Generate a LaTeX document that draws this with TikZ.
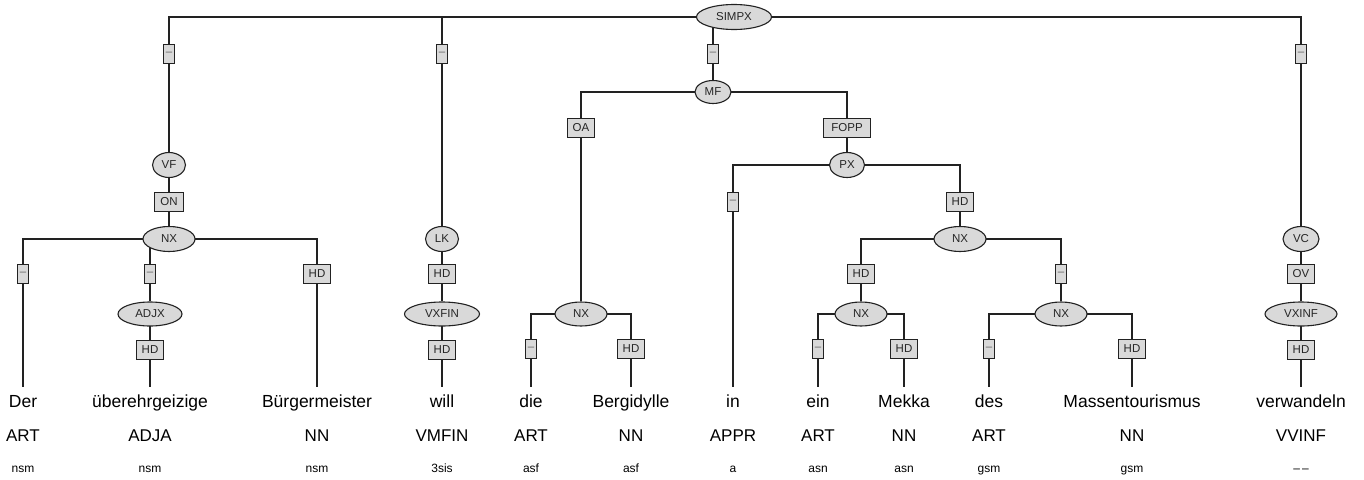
\documentclass[tikz,border=0pt]{standalone}
\usepackage{fontspec}
\setmainfont{Liberation Sans}
\usetikzlibrary{shapes.geometric,backgrounds}
\definecolor{nodefill}{HTML}{D9D9D9}
\definecolor{linecol}{HTML}{222222}
\definecolor{dashcol}{HTML}{666666}
\tikzset{
  cat/.style={ellipse, draw=linecol, fill=nodefill, line width=1.1pt, inner sep=0pt,
    minimum height=25pt, minimum width=#1, font=\fontsize{11.5}{13}\selectfont, text=black!85},
  edgelbl/.style={rectangle, draw=linecol, fill=nodefill, line width=1.1pt, inner xsep=5.5pt,
    inner ysep=0pt, minimum height=19pt, font=\fontsize{11.5}{13}\selectfont, text=black!85},
  dashlbl/.style={edgelbl, inner xsep=2.3pt, minimum width=11pt, text=dashcol},
  word/.style={anchor=base, inner xsep=0pt, inner ysep=7.5pt, text height=12.5pt, text depth=0pt,
    font=\fontsize{17.5}{20}\selectfont},
  postag/.style={anchor=base, inner sep=0pt, font=\fontsize{17}{20}\selectfont},
  morph/.style={anchor=base, inner sep=0pt, font=\fontsize{12}{14}\selectfont},
  conn/.style={draw=linecol, line width=1.1pt}
}
\begin{document}
\begin{tikzpicture}[x=1pt,y=-1pt]
\useasboundingbox (0,0) rectangle (1364,479);
% nodes
\node[cat=75pt] (simpx) at (734,17) {SIMPX};
\node[dashlbl] (es1) at (169,54) {–};
\node[dashlbl] (es2) at (442,54) {–};
\node[dashlbl] (es3) at (713,54) {–};
\node[dashlbl] (es4) at (1301,54) {–};
% VF
\node[cat=33pt] (vf) at (169,165) {VF};
\node[edgelbl] (eon) at (169,202) {ON};
\node[cat=52pt] (nxa) at (169,239) {NX};
\node[dashlbl] (enxa1) at (23,274) {–};
\node[dashlbl] (enxa2) at (150,274) {–};
\node[edgelbl] (enxa3) at (317,274) {HD};
\node[cat=64pt, minimum height=24pt] (adjx) at (150,314) {ADJX};
\node[edgelbl] (eadjx) at (150,350) {HD};
% LK
\node[cat=33pt] (lk) at (442,239) {LK};
\node[edgelbl] (elk) at (442,274) {HD};
\node[cat=75pt, minimum height=24pt] (vxfin) at (442,314) {VXFIN};
\node[edgelbl] (evxfin) at (442,350) {HD};
% MF
\node[cat=36pt, minimum height=23pt] (mf) at (713,92) {MF};
\node[edgelbl] (eoa) at (581,128) {OA};
\node[edgelbl, minimum width=47pt] (efopp) at (847,128) {FOPP};
\node[cat=52pt, minimum height=24pt] (nxb) at (581,314) {NX};
\node[dashlbl] (enxb1) at (531,349) {–};
\node[edgelbl] (enxb2) at (631,349) {HD};
\node[cat=35pt] (px) at (847,165) {PX};
\node[dashlbl] (epx1) at (733,202) {–};
\node[edgelbl] (epx2) at (960,202) {HD};
\node[cat=52pt] (nxc) at (960,239) {NX};
\node[edgelbl] (enxc1) at (861,274) {HD};
\node[dashlbl] (enxc2) at (1061,274) {–};
\node[cat=52pt, minimum height=24pt] (nxd) at (861,314) {NX};
\node[dashlbl] (enxd1) at (818,349) {–};
\node[edgelbl] (enxd2) at (904,349) {HD};
\node[cat=52pt, minimum height=24pt] (nxe) at (1061,314) {NX};
\node[dashlbl] (enxe1) at (989,349) {–};
\node[edgelbl] (enxe2) at (1132,349) {HD};
% VC
\node[cat=36pt] (vc) at (1301,239) {VC};
\node[edgelbl] (eov) at (1301,274) {OV};
\node[cat=72pt, minimum height=24pt] (vxinf) at (1301,314) {VXINF};
\node[edgelbl] (evxinf) at (1301,350) {HD};
% words
\node[word] (w1) at (23,407) {Der};
\node[word] (w2) at (150,407) {überehrgeizige};
\node[word] (w3) at (317,407) {Bürgermeister};
\node[word] (w4) at (442,407) {will};
\node[word] (w5) at (531,407) {die};
\node[word] (w6) at (631,407) {Bergidylle};
\node[word] (w7) at (733,407) {in};
\node[word] (w8) at (818,407) {ein};
\node[word] (w9) at (904,407) {Mekka};
\node[word] (w10) at (989,407) {des};
\node[word] (w11) at (1132,407) {Massentourismus};
\node[word] (w12) at (1301,407) {verwandeln};
% POS
\node[postag] (p1) at (23,441) {ART};
\node[postag] (p2) at (150,441) {ADJA};
\node[postag] (p3) at (317,441) {NN};
\node[postag] (p4) at (442,441) {VMFIN};
\node[postag] (p5) at (531,441) {ART};
\node[postag] (p6) at (631,441) {NN};
\node[postag] (p7) at (733,441) {APPR};
\node[postag] (p8) at (818,441) {ART};
\node[postag] (p9) at (904,441) {NN};
\node[postag] (p10) at (989,441) {ART};
\node[postag] (p11) at (1132,441) {NN};
\node[postag] (p12) at (1301,441) {VVINF};
% morph
\node[morph] (m1) at (23,472) {nsm};
\node[morph] (m2) at (150,472) {nsm};
\node[morph] (m3) at (317,472) {nsm};
\node[morph] (m4) at (442,472) {3sis};
\node[morph] (m5) at (531,472) {asf};
\node[morph] (m6) at (631,472) {asf};
\node[morph] (m7) at (733,472) {a};
\node[morph] (m8) at (818,472) {asn};
\node[morph] (m9) at (904,472) {asn};
\node[morph] (m10) at (989,472) {gsm};
\node[morph] (m11) at (1132,472) {gsm};
\node[morph] (m12) at (1301,472) {–\kern2pt–};
% connectors
\begin{pgfonlayer}{background}
\fill[white] (0,0) rectangle (1364,479);
\foreach \p/\e/\c in {simpx/es1/vf, simpx/es2/lk, simpx/es3/mf, simpx/es4/vc,
  vf/eon/nxa, nxa/enxa1/w1, nxa/enxa2/adjx, nxa/enxa3/w3, adjx/eadjx/w2,
  lk/elk/vxfin, vxfin/evxfin/w4,
  mf/eoa/nxb, mf/efopp/px, nxb/enxb1/w5, nxb/enxb2/w6,
  px/epx1/w7, px/epx2/nxc, nxc/enxc1/nxd, nxc/enxc2/nxe,
  nxd/enxd1/w8, nxd/enxd2/w9, nxe/enxe1/w10, nxe/enxe2/w11,
  vc/eov/vxinf, vxinf/evxinf/w12}
{
  \draw[conn] (\p.center) -| (\e.center);
  \draw[conn] (\e.center) -- (\c.north);
}
\end{pgfonlayer}
\end{tikzpicture}
\end{document}
